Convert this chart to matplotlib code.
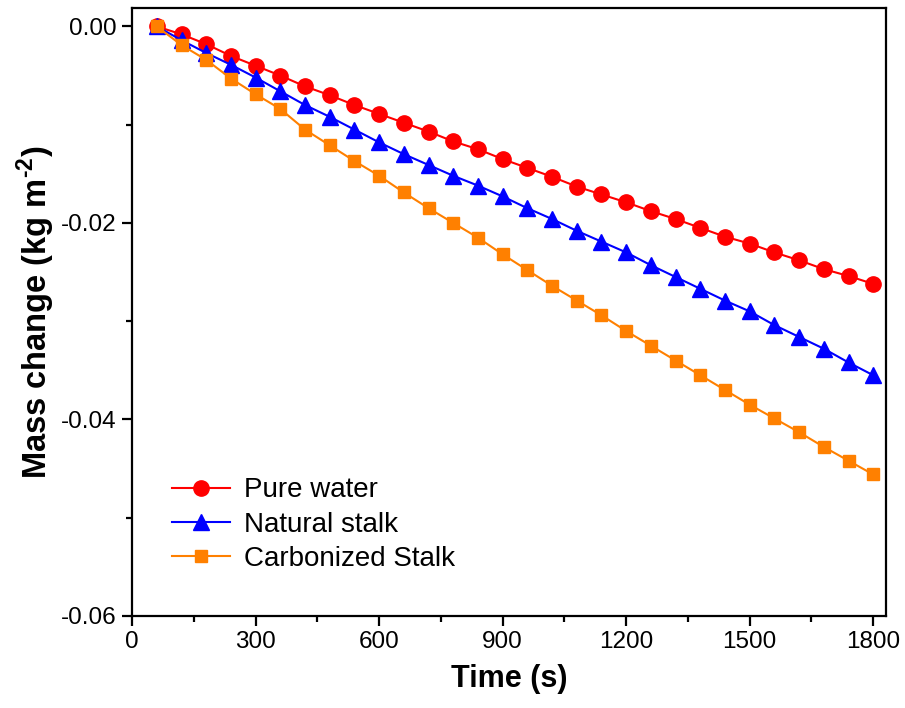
import matplotlib
matplotlib.use("Agg")
import matplotlib.pyplot as plt
from matplotlib.ticker import MultipleLocator, FormatStrFormatter

plt.rcParams['font.family'] = ['Liberation Sans', 'DejaVu Sans']
plt.rcParams['axes.unicode_minus'] = False
plt.rcParams['mathtext.fontset'] = 'custom'
plt.rcParams['mathtext.rm'] = 'Liberation Sans:bold'
plt.rcParams['mathtext.bf'] = 'Liberation Sans:bold'

# Data
time_s = [60, 120, 180, 240, 300, 360, 420, 480, 540, 600,
          660, 720, 780, 840, 900, 960, 1020, 1080, 1140, 1200,
          1260, 1320, 1380, 1440, 1500, 1560, 1620, 1680, 1740, 1800]

pure_water = [0.0, -0.0008, -0.0018, -0.0030, -0.0040, -0.0050, -0.0061, -0.0070, -0.0080, -0.0089,
              -0.0098, -0.0107, -0.0117, -0.0125, -0.0135, -0.0144, -0.0153, -0.0163, -0.0171, -0.0179,
              -0.0188, -0.0196, -0.0205, -0.0214, -0.0221, -0.0230, -0.0238, -0.0247, -0.0254, -0.0262]

natural_stalk = [0.0, -0.0014, -0.0027, -0.0039, -0.0052, -0.0066, -0.0080, -0.0092, -0.0105, -0.0118,
                 -0.0130, -0.0141, -0.0152, -0.0162, -0.0173, -0.0185, -0.0196, -0.0208, -0.0219, -0.0230,
                 -0.0243, -0.0255, -0.0267, -0.0279, -0.0290, -0.0304, -0.0316, -0.0328, -0.0342, -0.0355]

carbonized_stalk = [0.0, -0.0019, -0.0034, -0.0053, -0.0069, -0.0084, -0.0105, -0.0121, -0.0137, -0.0152,
                    -0.0169, -0.0185, -0.0200, -0.0215, -0.0232, -0.0248, -0.0264, -0.0279, -0.0294, -0.0310,
                    -0.0325, -0.0340, -0.0355, -0.0370, -0.0385, -0.0399, -0.0413, -0.0428, -0.0442, -0.0456]

fig = plt.figure(figsize=(9.05, 7.08), dpi=100)
ax = fig.add_axes([0.146, 0.130, 0.833, 0.859])

ax.plot(time_s, pure_water, color="#FF0000", marker="o", markersize=11, lw=1.5, label="Pure water")
ax.plot(time_s, natural_stalk, color="#0000FF", marker="^", markersize=11, lw=1.5, label="Natural stalk")
ax.plot(time_s, carbonized_stalk, color="#FF8000", marker="s", markersize=9, lw=1.5, label="Carbonized Stalk")

ax.set_xlim(0, 1831)
ax.set_ylim(-0.06, 0.0019)
ax.xaxis.set_major_locator(MultipleLocator(300))
ax.xaxis.set_minor_locator(MultipleLocator(150))
ax.yaxis.set_major_locator(MultipleLocator(0.02))
ax.yaxis.set_minor_locator(MultipleLocator(0.01))
ax.yaxis.set_major_formatter(FormatStrFormatter("%.2f"))

for sp in ax.spines.values():
    sp.set_linewidth(1.6)
ax.tick_params(which="major", direction="out", length=7, width=1.6, labelsize=17.5,
               pad=4, top=False, right=False)
ax.tick_params(which="minor", direction="out", length=4, width=1.6, top=False, right=False)

ax.set_xlabel("Time (s)", fontsize=22, fontweight="bold", labelpad=8)
ax.set_ylabel(r"Mass change (kg m$^{\text{-2}}$)", fontsize=23.5, fontweight="bold", labelpad=3)

ax.legend(loc="center left", bbox_to_anchor=(0.053, 0.150), frameon=False, fontsize=20,
          borderpad=0, borderaxespad=0,
          handlelength=2.1, handletextpad=0.5, labelspacing=0.3)

fig.savefig("out.png", dpi=100)
